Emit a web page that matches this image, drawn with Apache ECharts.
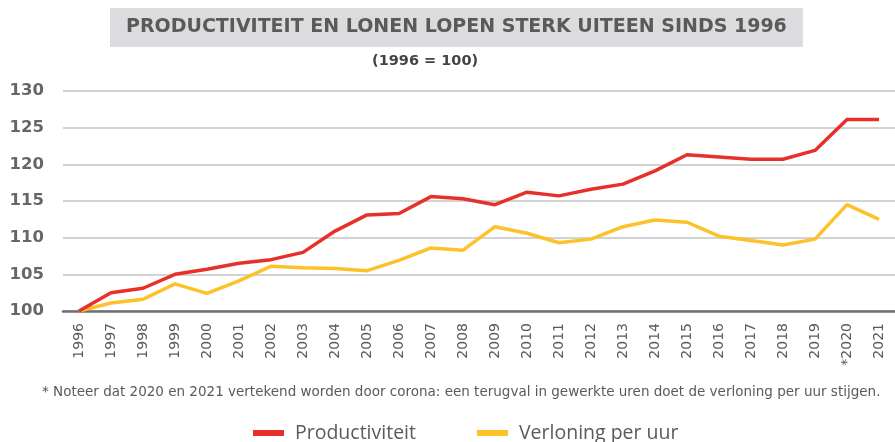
<!DOCTYPE html>
<html lang="nl">

<head>
    <meta charset="UTF-8">
    <title>Productiviteit en lonen</title>
    <script src="https://cdn.jsdelivr.net/npm/echarts@6/dist/echarts.min.js"></script>
    <style>
        * {
            margin: 0;
            padding: 0;
        }

        #main {
            width: 895px;
            height: 442px;
        }
    </style>
</head>

<body>
    <div id="main"></div>
    <script>
        // data (1996 = 100)
        var years = ['1996', '1997', '1998', '1999', '2000', '2001', '2002', '2003', '2004', '2005', '2006',
            '2007', '2008', '2009', '2010', '2011', '2012', '2013', '2014', '2015', '2016', '2017', '2018',
            '2019', '*2020', '2021'];
        var productiviteit = [100, 102.5, 103.1, 105.0, 105.7, 106.5, 107.0, 108.0, 110.9, 113.1, 113.3,
            115.6, 115.3, 114.5, 116.2, 115.7, 116.6, 117.3, 119.1, 121.3, 121.0, 120.7, 120.7,
            121.9, 126.1, 126.1];
        var verloning = [100, 101.1, 101.6, 103.7, 102.4, 104.1, 106.1, 105.9, 105.8, 105.5, 106.9,
            108.6, 108.3, 111.5, 110.6, 109.3, 109.8, 111.5, 112.4, 112.1, 110.2, 109.6, 109.0,
            109.8, 114.5, 112.5];

        var red = '#e8302a';
        var yellow = '#fdc129';
        var txt = '#5a5a5a';

        var chart = echarts.init(document.getElementById('main'));

        var option = {
            backgroundColor: '#fff',
            animation: false,
            title: [{
                text: 'PRODUCTIVITEIT EN LONEN LOPEN STERK UITEEN SINDS 1996',
                left: 110,
                top: 8,
                backgroundColor: '#dcdcde',
                padding: [10, 16, 10, 16],
                textStyle: {
                    fontFamily: 'DejaVu Sans',
                    fontWeight: 'bold',
                    fontSize: 19,
                    color: txt
                }
            }, {
                text: '(1996 = 100)',
                left: 367,
                top: 49,
                textStyle: {
                    fontFamily: 'DejaVu Sans',
                    fontWeight: 'bold',
                    fontSize: 14.5,
                    color: '#444'
                }
            }, {
                text: '* Noteer dat 2020 en 2021 vertekend worden door corona: een terugval in gewerkte uren doet de verloning per uur stijgen.',
                left: 37,
                top: 380,
                textStyle: {
                    fontFamily: 'DejaVu Sans',
                    fontWeight: 'normal',
                    fontSize: 13.5,
                    color: txt
                }
            }],
            legend: {
                left: 248,
                top: 418,
                itemWidth: 31,
                itemHeight: 6,
                itemGap: 61,
                icon: 'rect',
                textStyle: {
                    fontFamily: 'Open Sans',
                    fontSize: 19.5,
                    color: txt,
                    padding: [0, 0, 0, 6]
                },
                data: ['Productiviteit', 'Verloning per uur']
            },
            grid: {
                left: 63,
                right: 0,
                top: 91,
                bottom: 131
            },
            xAxis: {
                type: 'category',
                data: years,
                boundaryGap: true,
                axisLine: {
                    lineStyle: { color: '#6e6e6e', width: 2.5 }
                },
                axisTick: { show: false },
                axisLabel: {
                    rotate: 90,
                    interval: 0,
                    margin: 12,
                    fontFamily: 'DejaVu Sans',
                    fontSize: 14,
                    color: txt
                }
            },
            yAxis: {
                type: 'value',
                min: 100,
                max: 130,
                interval: 5,
                axisLine: { show: false },
                axisTick: { show: false },
                splitLine: {
                    lineStyle: { color: '#d3d3d3', width: 2 }
                },
                axisLabel: {
                    margin: 19,
                    fontFamily: 'DejaVu Sans',
                    fontWeight: 'bold',
                    fontSize: 16.5,
                    color: '#666'
                }
            },
            series: [{
                name: 'Productiviteit',
                type: 'line',
                data: productiviteit,
                symbol: 'none',
                color: red,
                lineStyle: { width: 3.5, color: red },
                z: 3
            }, {
                name: 'Verloning per uur',
                type: 'line',
                data: verloning,
                symbol: 'none',
                color: yellow,
                lineStyle: { width: 3.5, color: yellow },
                z: 2
            }]
        };
        chart.setOption(option);
    </script>
</body>

</html>
